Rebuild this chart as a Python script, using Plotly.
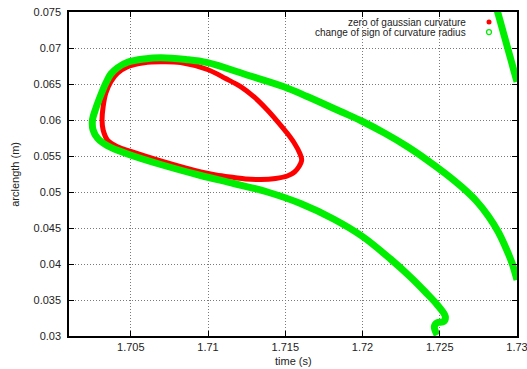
import plotly.graph_objects as go

# zero of gaussian curvature: closed contour in the (time, arclength) plane
red_t = [1.70953, 1.70694, 1.70500, 1.70414, 1.70349, 1.70321, 1.70314, 1.70321,
         1.70338, 1.70371, 1.70414, 1.70479, 1.70586, 1.70694, 1.70823, 1.70996,
         1.71114, 1.71211, 1.71302, 1.71384, 1.71450, 1.71513, 1.71560, 1.71593,
         1.71606, 1.71588, 1.71560, 1.71513, 1.71437, 1.71340, 1.71243, 1.71168,
         1.71050, 1.70953]
red_s = [0.05278, 0.05431, 0.05563, 0.05629, 0.05722, 0.05861, 0.06000, 0.06185,
         0.06371, 0.06532, 0.06649, 0.06740, 0.06796, 0.06810, 0.06799, 0.06701,
         0.06576, 0.06463, 0.06313, 0.06139, 0.05979, 0.05815, 0.05674, 0.05542,
         0.05444, 0.05351, 0.05278, 0.05222, 0.05188, 0.05174, 0.05181, 0.05201,
         0.05236, 0.05278]

# change of sign of curvature radius: main branch
green_t = [1.73000, 1.72970, 1.72931, 1.72879, 1.72814, 1.72737, 1.72646, 1.72536,
           1.72414, 1.72284, 1.72142, 1.72000, 1.71858, 1.71642, 1.71491, 1.71243,
           1.70996, 1.70856, 1.70694, 1.70586, 1.70479, 1.70414, 1.70371, 1.70338,
           1.70306, 1.70274, 1.70252, 1.70256, 1.70285, 1.70349, 1.70479, 1.70694,
           1.70953, 1.71167, 1.71384, 1.71599, 1.71812, 1.72000, 1.72181, 1.72310,
           1.72407, 1.72485, 1.72536, 1.72525, 1.72483, 1.72465, 1.72483]
green_s = [0.03778, 0.04000, 0.04208, 0.04444, 0.04667, 0.04875, 0.05063, 0.05257,
           0.05451, 0.05639, 0.05819, 0.05979, 0.06118, 0.06326, 0.06462, 0.06632,
           0.06796, 0.06840, 0.06865, 0.06847, 0.06801, 0.06726, 0.06639, 0.06510,
           0.06347, 0.06163, 0.06000, 0.05861, 0.05746, 0.05643, 0.05528, 0.05382,
           0.05229, 0.05118, 0.05000, 0.04840, 0.04625, 0.04382, 0.04069, 0.03820,
           0.03611, 0.03431, 0.03271, 0.03199, 0.03185, 0.03129, 0.03014]

# second branch entering at the top-right corner
green2_t = [1.72871, 1.72935, 1.73000]
green2_s = [0.07528, 0.07042, 0.06532]

x_ticks = [1.705, 1.71, 1.715, 1.72, 1.725, 1.73]
x_labels = ["1.705", "1.71", "1.715", "1.72", "1.725", "1.73"]
y_ticks = [0.03, 0.035, 0.04, 0.045, 0.05, 0.055, 0.06, 0.065, 0.07, 0.075]
y_labels = ["0.03", "0.035", "0.04", "0.045", "0.05", "0.055", "0.06", "0.065", "0.07", "0.075"]

RED = "#ff0000"
GREEN = "#00ee00"
FONT = "Liberation Sans, Arial, sans-serif"

fig = go.Figure()
fig.add_trace(go.Scatter(x=red_t, y=red_s, mode="lines",
                         line=dict(color=RED, width=5, shape="spline", smoothing=1.0),
                         showlegend=False))
fig.add_trace(go.Scatter(x=green_t, y=green_s, mode="lines",
                         line=dict(color=GREEN, width=7, shape="spline", smoothing=1.0),
                         showlegend=False))
fig.add_trace(go.Scatter(x=green2_t, y=green2_s, mode="lines",
                         line=dict(color=GREEN, width=7),
                         showlegend=False))

axis_common = dict(
    showline=True, linecolor="black", linewidth=1.5, mirror="allticks",
    ticks="inside", ticklen=5, tickcolor="black", tickwidth=1,
    showgrid=True, gridcolor="#7a7a7a", griddash="1px,2px", gridwidth=1,
    zeroline=False, automargin=False, ticklabeloverflow="allow",
    tickfont=dict(family=FONT, size=11, color="#222"),
)

fig.update_xaxes(range=[1.701, 1.73], tickvals=x_ticks, ticktext=x_labels,
                 ticklabelstandoff=0, **axis_common)
fig.update_yaxes(range=[0.03, 0.075], tickvals=y_ticks, ticktext=y_labels,
                 ticklabelstandoff=4, **axis_common)

annotations = [
    dict(text="arclength (m)", x=-0.121, y=0.5, xref="paper", yref="paper",
         xanchor="center", yanchor="middle", textangle=-90, showarrow=False,
         font=dict(family=FONT, size=11, color="#222")),
    dict(text="time (s)", x=0.5, y=-0.077, xref="paper", yref="paper",
         xanchor="center", yanchor="middle", showarrow=False,
         font=dict(family=FONT, size=11, color="#222")),
    dict(text="zero of gaussian curvature", x=0.8906, y=0.969, xref="paper", yref="paper",
         xanchor="right", yanchor="middle", showarrow=False,
         font=dict(family=FONT, size=10, color="#222")),
    dict(text="change of sign of curvature radius", x=0.8906, y=0.938, xref="paper",
         yref="paper", xanchor="right", yanchor="middle", showarrow=False,
         font=dict(family=FONT, size=10, color="#222")),
]

# legend glyphs drawn at the right of their labels
shapes = [
    dict(type="circle", xref="paper", yref="paper", xsizemode="pixel", ysizemode="pixel",
         xanchor=0.9375, yanchor=0.969, x0=-2.5, x1=2.5, y0=-2.5, y1=2.5,
         fillcolor=RED, line=dict(color=RED, width=0)),
    dict(type="circle", xref="paper", yref="paper", xsizemode="pixel", ysizemode="pixel",
         xanchor=0.9375, yanchor=0.938, x0=-2.5, x1=2.5, y0=-2.5, y1=2.5,
         fillcolor="rgba(0,0,0,0)", line=dict(color=GREEN, width=1.2)),
]

fig.update_layout(
    width=527, height=369,
    margin=dict(l=69, r=10, t=12, b=33),
    paper_bgcolor="white", plot_bgcolor="white",
    annotations=annotations, shapes=shapes,
    showlegend=False,
)

fig.write_html("out.html")
